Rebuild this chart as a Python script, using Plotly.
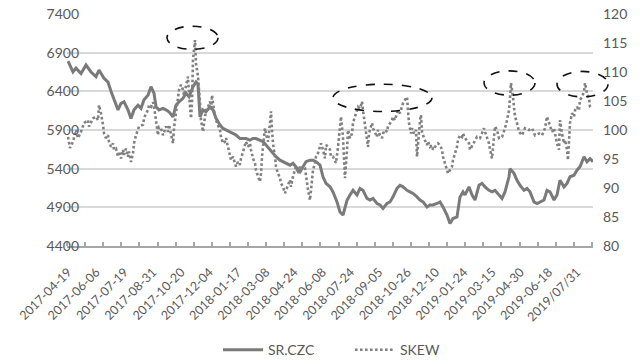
import plotly.graph_objects as go

# ---------------- data ----------------
tick_labels = ["2017-04-19", "2017-06-06", "2017-07-19", "2017-08-31", "2017-10-20",
               "2017-12-04", "2018-01-17", "2018-03-08", "2018-04-24", "2018-06-08",
               "2018-07-24", "2018-09-05", "2018-10-26", "2018-12-10", "2019-01-24",
               "2019-03-15", "2019-04-30", "2019-06-18", "2019/07/31"]

# x = trading-day slot along the category axis
sr_day = [0, 5, 8, 13, 18, 23, 28, 31, 36, 40,
          43, 46, 50, 53, 56, 60, 63, 66, 70, 73,
          76, 80, 83, 86, 88, 91, 95, 98, 101, 105,
          108, 111, 115, 118, 121, 125, 128, 130, 132, 135,
          138, 142, 145, 148, 152, 155, 158, 162, 165, 168,
          172, 175, 178, 182, 185, 188, 192, 195, 198, 202,
          205, 208, 212, 215, 218, 222, 225, 228, 232, 235,
          238, 242, 245, 248, 252, 255, 258, 262, 265, 269,
          272, 275, 279, 282, 285, 289, 292, 295, 299, 302,
          305, 309, 312, 315, 319, 322, 325, 329, 332, 335,
          339, 342, 345, 349, 352, 355, 359, 362, 365, 369,
          372, 375, 379, 382, 385, 389, 392, 395, 397, 401,
          404, 407, 411, 414, 417, 421, 424, 427, 431, 434,
          437, 441, 442, 446, 449, 452, 456, 459, 462, 466,
          469, 472, 476, 479, 482, 486, 489, 492, 496, 499,
          502, 506, 509, 512, 516, 519, 522, 525]
sr_val = [6790, 6650, 6700, 6630, 6740, 6650, 6590, 6675, 6570, 6520,
          6400, 6290, 6160, 6245, 6265, 6160, 6050, 6160, 6220, 6180,
          6290, 6350, 6460, 6375, 6200, 6160, 6180, 6160, 6135, 6070,
          6220, 6265, 6310, 6375, 6330, 6460, 6520, 6490, 6070, 6160,
          6135, 6200, 6160, 6050, 5965, 5920, 5900, 5880, 5855, 5835,
          5790, 5790, 5790, 5770, 5790, 5790, 5770, 5750, 5705, 5640,
          5600, 5555, 5510, 5490, 5470, 5445, 5470, 5425, 5360, 5425,
          5490, 5510, 5510, 5490, 5445, 5295, 5210, 5165, 5100, 4970,
          4840, 4800, 4990, 5060, 5120, 5060, 5145, 5120, 5015, 4995,
          5015, 4950, 4930, 4885, 4950, 4970, 5035, 5145, 5185, 5165,
          5120, 5100, 5080, 5035, 4995, 4970, 4905, 4930, 4930, 4950,
          4970, 4905, 4800, 4690, 4755, 4775, 5035, 5100, 5060, 5165,
          5060, 4995, 5185, 5210, 5165, 5120, 5100, 5120, 5060, 5015,
          5100, 5295, 5400, 5340, 5250, 5185, 5120, 5145, 5100, 4970,
          4950, 4970, 4995, 5120, 5100, 4995, 5060, 5250, 5165, 5210,
          5295, 5315, 5380, 5425, 5555, 5490, 5530, 5490]

skew_day = [0, 2, 5, 8, 10, 13, 16, 20, 21, 25,
            28, 30, 31, 33, 35, 36, 38, 40, 41, 43,
            45, 46, 48, 50, 51, 53, 55, 56, 58, 60,
            61, 63, 65, 66, 68, 70, 71, 75, 76, 78,
            80, 81, 83, 85, 87, 90, 91, 93, 95, 98,
            100, 101, 103, 105, 106, 108, 110, 111, 113, 115,
            116, 118, 120, 121, 123, 124, 125, 127, 128, 130,
            131, 132, 133, 135, 137, 138, 140, 142, 143, 144,
            146, 148, 152, 153, 155, 157, 158, 160, 162, 163,
            165, 167, 168, 170, 172, 173, 175, 177, 178, 180,
            182, 183, 185, 187, 188, 190, 192, 193, 194, 196,
            197, 198, 200, 202, 203, 204, 205, 207, 208, 210,
            212, 213, 215, 217, 218, 220, 222, 223, 225, 227,
            228, 230, 232, 233, 235, 237, 238, 240, 242, 243,
            245, 247, 248, 250, 252, 253, 255, 257, 258, 260,
            262, 263, 265, 268, 270, 272, 273, 275, 276, 277,
            279, 280, 282, 284, 285, 287, 289, 290, 292, 294,
            295, 297, 299, 300, 301, 304, 305, 307, 309, 310,
            312, 314, 315, 317, 319, 320, 322, 324, 325, 327,
            329, 330, 332, 334, 335, 337, 339, 340, 341, 343,
            344, 346, 348, 349, 350, 352, 353, 354, 356, 359,
            360, 362, 364, 365, 367, 369, 370, 372, 374, 375,
            377, 379, 380, 382, 384, 385, 387, 389, 390, 392,
            394, 395, 397, 401, 402, 406, 409, 412, 416, 417,
            419, 421, 422, 424, 426, 427, 429, 431, 434, 437,
            439, 441, 442, 443, 445, 446, 447, 449, 451, 454,
            457, 461, 464, 467, 471, 474, 477, 479, 481, 482,
            484, 486, 487, 489, 491, 492, 494, 496, 497, 499,
            500, 501, 502, 504, 506, 507, 509, 511, 512, 514,
            516, 517, 519, 521, 522, 524]
skew_val = [98.8, 96.9, 98.0, 100.0, 98.6, 99.7, 101.2, 101.7, 100.6, 102.0,
            102.3, 101.7, 104.3, 102.9, 100.9, 99.4, 98.6, 99.1, 98.0, 97.1,
            97.7, 96.6, 96.8, 95.4, 96.3, 95.1, 96.6, 95.7, 96.8, 95.4,
            96.3, 94.5, 96.0, 97.7, 99.1, 100.0, 100.6, 100.9, 102.0, 102.9,
            103.4, 104.3, 104.0, 104.8, 102.9, 99.1, 100.5, 100.3, 99.1, 100.6,
            99.7, 100.9, 99.4, 97.7, 100.3, 102.9, 105.2, 106.9, 107.8, 106.9,
            106.0, 107.5, 109.2, 106.3, 102.0, 104.7, 112.1, 115.5, 111.5, 109.2,
            107.5, 104.7, 101.7, 99.7, 102.3, 103.4, 104.0, 104.9, 103.4, 106.0,
            103.4, 101.7, 100.0, 98.8, 97.7, 98.0, 98.6, 97.1, 95.7, 94.8,
            95.4, 94.3, 93.7, 94.5, 94.0, 95.1, 96.3, 97.4, 98.0, 97.1,
            97.7, 96.6, 95.1, 94.3, 93.1, 92.0, 91.1, 92.5, 95.4, 98.8,
            100.3, 99.4, 98.0, 101.2, 103.2, 100.0, 97.7, 95.4, 93.7, 92.5,
            91.7, 90.8, 90.2, 89.1, 89.7, 90.5, 91.4, 90.2, 92.0, 93.1,
            93.7, 92.5, 93.7, 92.8, 93.7, 93.4, 92.0, 89.7, 87.9, 90.0,
            93.1, 94.3, 95.4, 96.0, 97.4, 97.7, 96.6, 95.1, 97.4, 97.1,
            96.6, 95.4, 95.4, 94.3, 97.1, 100.0, 102.3, 98.8, 94.8, 91.7,
            96.6, 100.0, 98.6, 99.4, 101.2, 102.3, 103.4, 104.0, 103.7, 104.9,
            103.4, 101.2, 98.8, 97.1, 99.4, 101.2, 100.3, 99.4, 98.8, 100.0,
            99.1, 98.6, 99.4, 100.0, 99.7, 100.6, 101.2, 101.7, 102.3, 101.7,
            102.9, 103.4, 102.9, 104.0, 104.6, 105.2, 105.7, 103.4, 101.2, 99.4,
            100.3, 99.4, 100.0, 95.4, 97.7, 101.7, 102.6, 99.7, 98.6, 97.4,
            98.0, 97.1, 97.4, 96.6, 97.1, 97.4, 97.7, 97.4, 96.6, 95.4,
            94.3, 93.1, 92.5, 93.1, 93.7, 94.8, 96.0, 97.1, 98.3, 99.1,
            98.8, 99.4, 98.6, 97.7, 96.6, 98.0, 98.8, 98.6, 100.3, 99.7,
            98.8, 97.7, 96.6, 95.1, 98.8, 100.6, 100.0, 98.6, 98.8, 100.3,
            101.7, 103.4, 105.5, 108.1, 105.7, 103.4, 102.3, 101.2, 99.7, 99.1,
            100.3, 100.0, 100.3, 99.1, 99.4, 99.1, 100.3, 102.3, 101.2, 100.9,
            99.7, 100.3, 99.4, 97.7, 96.6, 101.7, 99.4, 97.7, 98.3, 96.6,
            94.8, 98.0, 101.2, 102.9, 102.3, 103.4, 104.0, 103.4, 105.2, 105.7,
            106.6, 108.1, 106.3, 105.5, 104.0, 103.7]

# highlighted SKEW spikes: (day from, day to, SKEW low, SKEW high)
highlight_day0 = [99, 265, 416, 489]
highlight_day1 = [150, 364, 467, 540]
highlight_lo = [113.9, 103.2, 106.0, 105.7]
highlight_hi = [117.9, 107.9, 110.2, 110.1]

# ---------------- axes layout ----------------
X_MIN, X_MAX = -1, 525
LEFT_MIN, LEFT_MAX = 4400, 7400
RIGHT_MIN, RIGHT_MAX = 80, 120
LABEL_STEP = 28.28      # slots between date labels (25 categories)
TICK_STEP = 18.1        # slots between tick marks (16 categories)

GRAY_TEXT = "#595959"
FAMILY = "Lato, 'Open Sans', sans-serif"
FONT = dict(family=FAMILY, size=14, color=GRAY_TEXT)

fig = go.Figure()
fig.add_trace(go.Scatter(
    x=sr_day, y=sr_val, name="SR.CZC", mode="lines",
    line=dict(color="#7a7a7a", width=3), yaxis="y"))
fig.add_trace(go.Scatter(
    x=skew_day, y=skew_val, name="SKEW", mode="lines",
    line=dict(color="#808080", width=2.6, dash="2.6px,2.4px"), yaxis="y2"))

shapes = []
for d0, d1, lo, hi in zip(highlight_day0, highlight_day1, highlight_lo, highlight_hi):
    shapes.append(dict(
        type="circle", xref="paper", yref="paper",
        x0=(d0 - X_MIN) / (X_MAX - X_MIN), x1=(d1 - X_MIN) / (X_MAX - X_MIN),
        y0=(lo - RIGHT_MIN) / (RIGHT_MAX - RIGHT_MIN), y1=(hi - RIGHT_MIN) / (RIGHT_MAX - RIGHT_MIN),
        line=dict(color="#111111", width=1.6, dash="dash"), layer="above"))

fig.update_layout(
    width=640, height=364,
    margin=dict(l=67, r=47, t=14, b=118, autoexpand=False),
    paper_bgcolor="white", plot_bgcolor="white",
    font=FONT,
    showlegend=True,
    legend=dict(orientation="h", xref="container", yref="container",
                x=218 / 640, xanchor="left", y=0.038, yanchor="middle",
                entrywidth=77, entrywidthmode="pixels",
                font=dict(family=FAMILY, size=14, color=GRAY_TEXT),
                bgcolor="rgba(0,0,0,0)", itemwidth=40, tracegroupgap=0),
    xaxis=dict(
        range=[X_MIN, X_MAX], showgrid=False, zeroline=False, automargin=False,
        tickmode="array",
        tickvals=[i * LABEL_STEP for i in range(len(tick_labels))],
        ticktext=tick_labels, tickangle=-45, ticks="",
        ticklabelstandoff=12,
        showline=True, linecolor="#a6a6a6", linewidth=2,
        minor=dict(tickmode="linear", tick0=X_MIN, dtick=TICK_STEP, ticks="inside",
                   ticklen=4, tickwidth=1.5, tickcolor="#a6a6a6", showgrid=False),
        tickfont=dict(family=FAMILY, size=12.5, color=GRAY_TEXT)),
    yaxis=dict(
        range=[LEFT_MIN, LEFT_MAX], dtick=500, tick0=LEFT_MIN, automargin=False,
        anchor="free", position=12 / 526,
        showgrid=True, gridcolor="#d9d9d9", gridwidth=1.5, zeroline=False,
        ticks="", tickfont=FONT, showline=False),
    yaxis2=dict(
        range=[RIGHT_MIN, RIGHT_MAX], dtick=5, tick0=RIGHT_MIN, automargin=False,
        overlaying="y", side="right", showgrid=False, zeroline=False,
        ticks="", ticklabelstandoff=9, tickfont=FONT, showline=False),
    shapes=shapes,
)

fig.write_html("out.html", config={"displayModeBar": False},
               post_script="document.body.style.margin='0';document.body.style.overflow='hidden';")
